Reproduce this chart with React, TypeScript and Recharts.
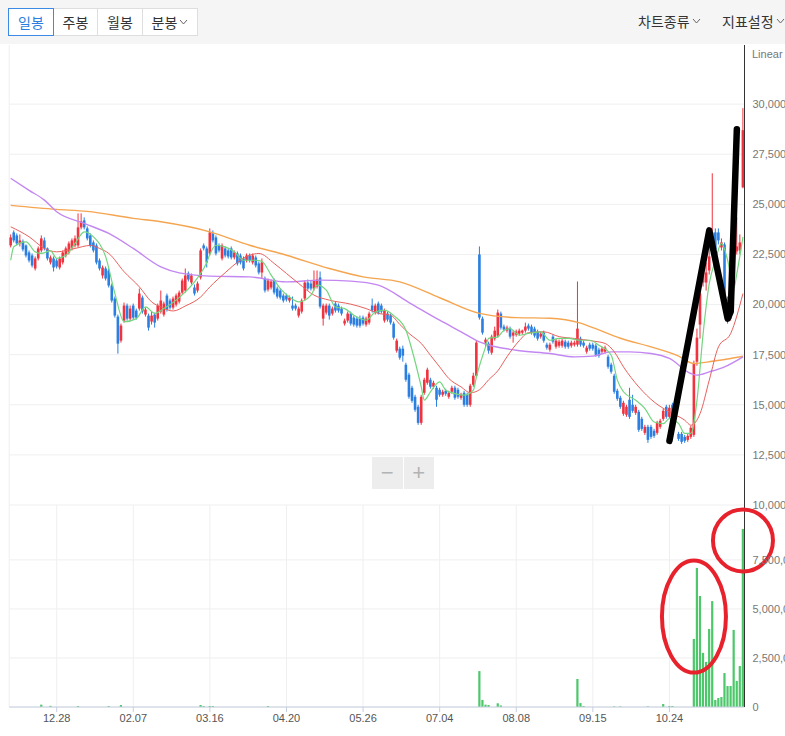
import React from "react";
import { ComposedChart, Bar, Line, XAxis, YAxis, CartesianGrid, ReferenceDot } from "recharts";

// x-axis ticks (candle index -> date label)
const tickIndex = [15, 40, 65, 90, 115, 140, 165, 190, 215];
const tickLabels = ["12.28", "02.07", "03.16", "04.20", "05.26", "07.04", "08.08", "09.15", "10.24"];
const priceTicks = [10000, 12500, 15000, 17500, 20000, 22500, 25000, 27500, 30000];
const volumeTicks = [0, 2500000, 5000000, 7500000];

// daily candles: [open, high, low, close]
const ohlc: [number, number, number, number][] = [
  [22950,23500,22850,23350],[23600,23700,23100,23200],[23450,23550,22950,23050],[23050,23500,22900,23200],[23150,23250,22650,22750],
  [22950,23000,22350,22450],[22600,22700,22100,22200],[22450,22550,21850,21950],[21800,22400,21700,22300],[22300,22900,22200,22800],
  [22700,23450,22600,23300],[23200,23350,22700,22800],[22800,22850,22200,22300],[22100,22450,22000,22350],[22300,22400,21650,21850],
  [22200,22300,21800,21900],[21850,22400,21750,22300],[22100,22700,22000,22600],[22450,22900,22350,22800],[22600,23150,22500,23050],
  [22800,23300,22700,23200],[22950,23450,22850,23300],[22950,24550,22850,23850],[23850,24550,23750,24150],[24200,24350,23750,23850],
  [23800,23900,23200,23300],[23450,23550,22850,22950],[23100,23200,22600,22700],[22950,23050,22000,22100],[22200,22300,21700,21800],
  [21450,21950,21300,21850],[21800,21900,21200,21300],[21700,21800,20850,20950],[20950,21050,20100,20200],[20300,20400,19350,19450],
  [19400,19500,17550,18050],[18200,19050,18100,18950],[19200,20100,19100,19950],[19950,20050,19200,19300],[19300,19950,19200,19800],
  [19950,20050,19250,19350],[19700,19800,19250,19350],[19800,20800,19700,20550],[20350,20450,19550,19650],[19500,19850,19400,19750],
  [19450,19550,18700,18850],[19150,19650,19000,19450],[19500,19600,18850,19100],[19300,20050,19200,19950],[19650,20700,19550,20200],
  [19500,20150,19400,20050],[20450,20550,19650,19750],[20200,20300,19750,19850],[19850,20400,19750,20300],[20000,20550,19900,20450],
  [20150,20700,20050,20600],[20600,21300,20500,21200],[20700,21800,20600,21450],[21550,21650,21150,21250],[21100,21550,21000,21450],
  [20850,21000,20450,20550],[20700,21150,20600,21050],[21350,22800,21250,22700],[22950,23050,22700,22800],[22800,22900,21850,22100],
  [22550,23800,22450,23600],[23550,23700,23100,23200],[23350,23450,22450,22550],[22950,23050,22600,22700],[22300,23050,22200,22950],
  [22800,22900,22350,22450],[22700,22800,22300,22400],[22800,22900,22250,22350],[22350,22700,22250,22600],[22550,22650,21950,22050],
  [22450,22550,22000,22100],[22300,22400,21700,21800],[22200,22550,22100,22450],[22450,22550,22100,22200],[22100,22550,22000,22450],
  [22350,22450,21850,21950],[22050,22150,21500,21600],[21600,22300,21300,22100],[21300,21400,20600,20700],[20750,21300,20650,21200],
  [20850,21250,20750,21150],[21200,21300,20500,20600],[20800,20900,20300,20400],[20700,20800,20250,20350],[20450,20550,20100,20200],
  [20450,20550,20150,20250],[20200,20450,20100,20350],[19950,20400,19700,19800],[19950,20050,19700,19800],[19450,19900,19350,19800],
  [19650,20300,19550,20200],[20300,21200,20200,21100],[21100,21250,20700,20800],[21050,21200,20700,20800],[20800,21700,20700,21200],
  [20900,21700,20800,21250],[21350,21650,19800,19900],[19300,20050,18950,19950],[19600,20050,19500,19950],[19950,20050,19250,19450],
  [19550,19900,19450,19800],[20050,20150,19600,19700],[19950,20050,19600,19700],[19800,19900,19450,19550],[19050,19300,18950,19200],
  [19200,19650,19100,19550],[19550,19650,18950,19050],[19350,19450,18900,19000],[19300,19400,18850,18950],[19300,19450,18850,18950],
  [19350,19450,18950,19050],[19000,19400,18900,19300],[19100,19650,19000,19550],[19950,20300,19600,19700],[19600,20050,19500,19950],
  [20050,20150,19500,19600],[19950,20050,19550,19650],[19200,19800,19100,19700],[19550,19650,19150,19250],[19450,19550,19000,19100],
  [19050,19150,18250,18350],[17700,18300,17600,18200],[17800,17900,17250,17350],[17800,17950,17150,17450],[17000,17100,16150,16250],
  [16500,16600,15300,15400],[15850,15950,15100,15200],[15400,15500,14650,14750],[14900,15000,14000,14100],[14100,15500,14000,15400],
  [15600,16350,15500,16250],[16100,16850,16000,16750],[16250,16350,15800,15900],[15900,16200,15800,16100],[15850,15950,14900,15250],
  [15750,15850,15400,15500],[15500,15750,15400,15650],[15700,15800,15450,15550],[15400,15700,15300,15600],[15650,15950,15550,15850],
  [15850,15950,15250,15350],[15750,15850,15300,15400],[15350,15600,15250,15500],[15600,15700,14900,15000],[15500,15600,14900,15000],
  [15000,16050,14900,15950],[16000,16600,15900,16450],[16450,18200,16350,18100],[22500,22900,19250,19350],[19300,19400,18500,18600],
  [18100,18350,17900,18250],[18050,18150,17550,17700],[17600,18500,17500,18400],[18300,18900,18200,18700],[18450,19750,18350,19600],
  [19550,19650,18750,18850],[18900,19000,18650,18750],[18700,18950,18600,18850],[18800,18900,18300,18400],[18450,18700,18100,18600],
  [18500,18750,18400,18650],[18550,18800,18450,18700],[18600,18750,18500,18700],[18700,19100,18600,18900],[18950,19050,18700,18800],
  [18900,19000,18500,18600],[18800,18900,18350,18450],[18650,18750,18200,18300],[18400,18650,18300,18550],[18600,18700,18100,18200],
  [18000,18100,17750,17850],[17750,18100,17650,18000],[18400,18500,18050,18150],[17900,18300,17800,18200],[17950,18250,17850,18150],
  [17950,18300,17850,18200],[18150,18250,17800,17900],[18100,18200,17800,17900],[17950,18200,17850,18100],[18000,18200,17900,18100],
  [18000,21150,17900,18800],[18300,18400,17900,18000],[18100,18200,17850,17950],[17650,17950,17550,17850],[18000,18100,17700,17800],
  [18000,18100,17700,17800],[17950,18050,17400,17500],[17750,17850,17350,17450],[17650,17900,17550,17800],[17650,17950,17550,17850],
  [17400,17500,16800,16900],[17000,17100,16550,16650],[16450,16550,15550,15650],[15700,15800,15200,15300],[15350,15450,14800,14900],
  [14550,15200,14450,15100],[14500,15000,14400,14900],[15250,15850,14300,14400],[15000,15500,14600,14700],[14600,15000,14500,14900],
  [14650,14750,13650,13750],[14300,14400,13700,13800],[13600,14000,13500,13900],[13900,14000,13100,13250],[13900,14000,13300,13400],
  [13700,13800,13350,13450],[13600,14200,13500,14100],[13900,14300,13800,14200],[14300,14800,14200,14700],[14900,15000,14300,14400],
  [14400,15000,14300,14850],[15000,15100,14200,14300],[14300,14700,14200,14600],[13550,13650,13200,13300],[13550,13650,13050,13150],
  [13400,13500,13100,13200],[13250,13550,13150,13450],[13400,13950,13300,13850],[13500,17200,13400,17050],[17150,18800,16950,18350],
  [19000,20900,18300,20550],[21100,22500,20900,22300],[21100,22100,20700,21600],[21700,23600,21500,22400],[22750,26550,22500,23600],
  [23600,23800,22500,22750],[23600,23800,23000,23200],[22850,23300,22700,23100],[23000,23100,19900,20000],[20200,20400,19050,19200],
  [19300,19900,19200,19700],[20900,23000,20700,22850],[22650,24350,22500,22900],[22700,23500,22500,23100],[25850,29800,25800,28700],
];

// volume: [candle index, shares]; other days are too small to show
const volumes: [number, number][] = [
  [10,120000],[13,60000],[22,50000],[32,50000],[36,100000],[62,100000],[63,50000],[65,50000],[66,50000],[84,50000],
  [153,1830000],[154,360000],[155,120000],[156,100000],[159,190000],[160,80000],
  [185,1430000],[186,200000],[187,50000],[197,30000],[199,30000],[208,30000],[213,150000],[215,50000],[216,50000],
  [223,3470000],[224,7090000],[225,5660000],[226,2760000],[227,2300000],[228,3980000],[229,5400000],[230,360000],
  [231,460000],[232,510000],[233,1730000],[234,1070000],[235,1070000],[236,3930000],[237,1330000],[238,2090000],[239,9080000],
];

// moving averages: [candle index, price]
const ma5: [number, number][] = [
  [0,22210],[1,22880],[5,23130],[8,22630],[10,22550],[13,22680],[15,22300],[18,22460],[21,23050],[24,23630],[27,23380],
  [31,22380],[34,20550],[37,19140],[41,19300],[44,19880],[47,19560],[50,19800],[54,20220],[57,20630],[60,21130],[63,21800],
  [67,22960],[70,22880],[73,22630],[76,22210],[80,22210],[82,22150],[85,21470],[88,20800],[91,20380],[94,20130],[98,20470],
  [100,20970],[103,20720],[106,19880],[109,19800],[112,19470],[116,19220],[119,19630],[122,19720],[125,19450],[129,18720],
  [131,17720],[134,15890],[135,15230],[137,15650],[140,16140],[142,15730],[145,15560],[148,15480],[151,15730],[152,16390],
  [155,17890],[156,18310],[159,18390],[161,18720],[163,18800],[166,18470],[169,18560],[173,18640],[176,18220],[179,18310],
  [182,18310],[186,18220],[189,18220],[192,17970],[196,17470],[198,16230],[200,15650],[204,15230],[207,14810],[210,14140],
  [213,14060],[215,14310],[218,14060],[220,13570],[222,13570],[224,15230],[226,18560],[228,21050],[230,22210],[232,23050],
  [234,22210],[236,20800],[237,21550],[239,23380],
];
const ma20: [number, number][] = [
  [0,23880],[6,23380],[11,22800],[15,22630],[21,22800],[26,22950],[29,22800],[32,22550],[37,21640],[42,20880],[46,20130],
  [49,19880],[53,19680],[57,19930],[62,20380],[65,20880],[70,21590],[75,22220],[78,22460],[81,22550],[86,22050],[90,21550],
  [94,21050],[99,20470],[104,20220],[111,20020],[116,19800],[120,19560],[124,19470],[127,19010],[130,18560],[134,18060],
  [137,17470],[140,16890],[143,16310],[147,15890],[150,15600],[153,15750],[156,16250],[159,16700],[162,17400],[166,18200],
  [169,18600],[174,18640],[179,18400],[184,18310],[190,18180],[194,18060],[197,17640],[200,16890],[205,15890],[210,15140],
  [215,14640],[220,14230],[222,13980],[225,14560],[228,16230],[231,17890],[235,18560],[239,20550],
];
const ma60: [number, number][] = [
  [0,26300],[6,25700],[11,25210],[15,24630],[24,24050],[32,23550],[40,22800],[49,21880],[55,21580],[65,21420],[78,21380],
  [90,21130],[101,21220],[111,21170],[120,20970],[130,20100],[140,19220],[147,18640],[153,18140],[165,17720],[176,17560],
  [184,17390],[190,17430],[196,17640],[202,17640],[209,17560],[215,17310],[222,16560],[224,16480],[228,16640],[233,16890],[239,17390],
];
const ma120: [number, number][] = [
  [0,24950],[15,24750],[25,24650],[40,24300],[49,24130],[65,23630],[78,22960],[90,22460],[104,21800],[115,21380],[127,21130],
  [140,20340],[153,19560],[165,19350],[176,19320],[186,19070],[190,18850],[199,18320],[209,17890],[218,17430],[223,17060],
  [229,17170],[235,17310],[239,17420],
];

// hand-drawn marks on the screenshot
const zigzag: [number, number][] = [[215,13200],[228,23700],[234,19300],[235,19650],[237,28750]];
const circles: [number, number][] = [[223,4610000],[239,8490000]];

const RED = "#f0333f";
const BLUE = "#2b7fe0";
const NUM_FONT = "'Liberation Sans', Arial, sans-serif";
const KR_FONT = "'Noto Sans CJK KR', 'Noto Sans', sans-serif";

const toMap = (pts: [number, number][]) => new Map(pts.map(([i, v]) => [i, v]));
const m5 = toMap(ma5), m20 = toMap(ma20), m60 = toMap(ma60), m120 = toMap(ma120), zz = toMap(zigzag), vm = toMap(volumes);

const rows = ohlc.map(([o, h, l, c], i) => ({
  i, open: o, high: h, low: l, close: c, range: [l, h],
  ma5: m5.get(i), ma20: m20.get(i), ma60: m60.get(i), ma120: m120.get(i), zig: zz.get(i),
}));
const volRows = ohlc.map((_, i) => ({ i, vol: vm.get(i) ?? 0 }));

const tickText = (i: number) => tickLabels[tickIndex.indexOf(i)] ?? "";

function Candle(props: any) {
  const { x, y, width, height, payload } = props;
  if (!payload) return null;
  const { open, close, high, low } = payload;
  const top = Math.min(y, y + height);
  const h = Math.abs(height);
  const k = high > low ? h / (high - low) : 0;
  const py = (v: number) => top + (high - v) * k;
  const color = close >= open ? RED : BLUE;
  const bTop = py(Math.max(open, close));
  const bH = Math.max(1, py(Math.min(open, close)) - bTop);
  const cx = x + width / 2;
  const bw = 2.6;
  return (
    <g>
      <line x1={cx} x2={cx} y1={top} y2={top + h} stroke={color} strokeWidth={1} />
      <rect x={cx - bw / 2} y={bTop} width={bw} height={bH} fill={color} />
    </g>
  );
}

function VolBar(props: any) {
  const { x, y, width, height } = props;
  if (!height) return null;
  const cx = x + width / 2;
  return <rect x={cx - 1.1} y={y} width={2.2} height={height} fill="#4cc76a" />;
}

const Chevron = () => (
  <svg width="9" height="6" style={{ marginLeft: 2 }}>
    <polyline points="1,1 4.5,5 8,1" fill="none" stroke="#666" strokeWidth="1" />
  </svg>
);

const btn = (w: number, active = false): React.CSSProperties => ({
  width: w, height: 28, boxSizing: "border-box", display: "flex", alignItems: "center", justifyContent: "center",
  background: "#fff", border: `1px solid ${active ? "#3a8ae6" : "#dedede"}`, color: active ? "#2b7fe0" : "#333",
  fontSize: 14, marginLeft: active ? 0 : -1, position: "relative", zIndex: active ? 1 : 0,
});

export default function App() {
  const ellipse = (rx: number, ry: number) => (p: any) => (
    <ellipse cx={p.cx} cy={p.cy} rx={rx} ry={ry} fill="none" stroke="#e8222c" strokeWidth={4} />
  );
  return (
    <div style={{ position: "relative", width: 785, height: 736, overflow: "hidden", background: "#fff", fontFamily: KR_FONT }}>
      <style>{"body{margin:0}"}</style>
      <div style={{ position: "absolute", left: 0, top: 0, width: 785, height: 44, background: "#f5f5f5" }}>
        <div style={{ position: "absolute", left: 8, top: 8, display: "flex" }}>
          <div style={btn(46, true)}>일봉</div>
          <div style={btn(45)}>주봉</div>
          <div style={btn(46)}>월봉</div>
          <div style={btn(56)}>분봉<Chevron /></div>
        </div>
        <div style={{ position: "absolute", left: 638, top: 11, fontSize: 14, color: "#333", display: "flex", alignItems: "center" }}>
          차트종류<Chevron />
        </div>
        <div style={{ position: "absolute", left: 722, top: 11, fontSize: 14, color: "#333", display: "flex", alignItems: "center", whiteSpace: "nowrap" }}>
          지표설정<Chevron />
        </div>
      </div>

      <div style={{ position: "absolute", left: 0, top: 45 }}>
        <ComposedChart width={785} height={470} data={rows} margin={{ top: 0, right: 0, bottom: 10, left: 9.2 }} barCategoryGap="15%">
          <CartesianGrid stroke="#efefef" horizontalValues={priceTicks} />
          <XAxis dataKey="i" ticks={tickIndex} height={0} tick={false} axisLine={false} tickLine={false} interval={0} />
          <YAxis orientation="right" width={40.5} domain={[10000, 32950]} ticks={priceTicks} allowDataOverflow
            tickFormatter={(v: number) => v.toLocaleString("en-US")} tickLine={false}
            axisLine={{ stroke: "#333" }} tick={{ fill: "#777", fontSize: 11, fontFamily: NUM_FONT }} />
          <Bar dataKey="range" shape={(p: any) => <Candle {...p} />} isAnimationActive={false} />
          <Line dataKey="ma120" stroke="#f5a550" strokeWidth={1.4} dot={false} activeDot={false} connectNulls type="monotone" isAnimationActive={false} />
          <Line dataKey="ma60" stroke="#c387f2" strokeWidth={1.4} dot={false} activeDot={false} connectNulls type="monotone" isAnimationActive={false} />
          <Line dataKey="ma20" stroke="#e8605c" strokeWidth={1} dot={false} activeDot={false} connectNulls type="monotone" isAnimationActive={false} />
          <Line dataKey="ma5" stroke="#72d67f" strokeWidth={1.2} dot={false} activeDot={false} connectNulls type="monotone" isAnimationActive={false} />
          <Line dataKey="zig" stroke="#000" strokeWidth={6.5} strokeLinejoin="round" strokeLinecap="round" dot={false} activeDot={false} connectNulls type="linear" isAnimationActive={false} />
        </ComposedChart>
      </div>
      <div style={{ position: "absolute", left: 752, top: 48, fontSize: 11, color: "#777", fontFamily: NUM_FONT }}>Linear</div>

      <div style={{ position: "absolute", left: 0, top: 505 }}>
        <ComposedChart width={785} height={231} data={volRows} margin={{ top: 0, right: 0, bottom: 0, left: 9.2 }} barCategoryGap="30%">
          <CartesianGrid stroke="#efefef" horizontalValues={volumeTicks} />
          <XAxis dataKey="i" ticks={tickIndex} interval={0} height={29} tickFormatter={tickText} tickSize={5}
            axisLine={{ stroke: "#c5cee0" }} tickLine={{ stroke: "#c5cee0" }}
            tick={{ fill: "#555", fontSize: 11, fontFamily: NUM_FONT }} />
          <YAxis orientation="right" width={40.5} domain={[0, 10300000]} ticks={volumeTicks} allowDataOverflow
            tickFormatter={(v: number) => v.toLocaleString("en-US")} tickLine={false}
            axisLine={{ stroke: "#333" }} tick={{ fill: "#777", fontSize: 11, fontFamily: NUM_FONT }} />
          <Bar dataKey="vol" shape={(p: any) => <VolBar {...p} />} isAnimationActive={false} />
          <ReferenceDot x={circles[0][0]} y={circles[0][1]} shape={ellipse(32, 56)} />
          <ReferenceDot x={circles[1][0]} y={circles[1][1]} shape={ellipse(30, 31)} />
        </ComposedChart>
      </div>

      <div style={{ position: "absolute", left: 372, top: 457, width: 62, height: 32, background: "#ededed", display: "flex", color: "#b3b3b3", fontSize: 22, fontFamily: NUM_FONT }}>
        <div style={{ flex: 1, display: "flex", alignItems: "center", justifyContent: "center", borderRight: "1px solid #fff" }}>−</div>
        <div style={{ flex: 1, display: "flex", alignItems: "center", justifyContent: "center" }}>+</div>
      </div>
    </div>
  );
}
